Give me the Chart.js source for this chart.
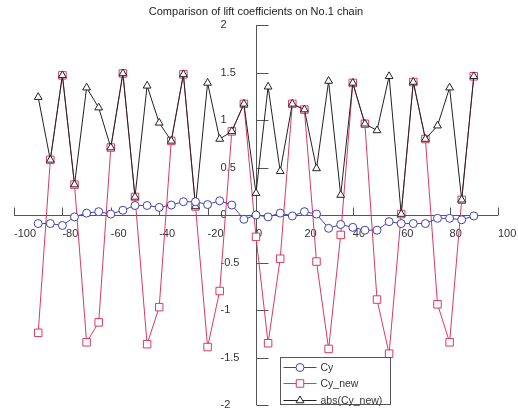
<!DOCTYPE html>
<html>
<head>
<meta charset="utf-8">
<script src="https://cdn.jsdelivr.net/npm/chart.js@4.4.1/dist/chart.umd.min.js"></script>
<style>
    body { margin: 0; background: #ffffff; }
    #wrap { width: 518px; height: 412px; }
</style>
</head>
<body>
<div id="wrap"><canvas id="liftChart" width="518" height="412"></canvas></div>
<script>
// Chain position angles (x) and lift coefficients
const angles = [-90, -85, -80, -75, -70, -65, -60, -55, -50, -45, -40, -35, -30, -25, -20, -15, -10, -5, 0,
    5, 10, 15, 20, 25, 30, 35, 40, 45, 50, 55, 60, 65, 70, 75, 80, 85, 90];

const cy = [-0.09, -0.09, -0.11, -0.02, 0.02, 0.035, 0.01, 0.05, 0.10, 0.10, 0.08, 0.105, 0.14, 0.14, 0.11, 0.15, 0.105, -0.045, 0.0,
    -0.02, 0.02, -0.01, 0.035, 0.01, -0.14, -0.10, -0.13, -0.16, -0.16, -0.07, -0.09, -0.09, -0.09, -0.035, -0.035, -0.05, -0.01];

const cyNew = [-1.24, 0.58, 1.47, 0.32, -1.34, -1.13, 0.71, 1.49, 0.19, -1.36, -0.97, 0.78, 1.48, 0.09, -1.39, -0.80, 0.88, 1.17, -0.23,
    -1.35, -0.46, 1.17, 1.11, -0.49, -1.41, -0.21, 1.39, 0.96, -0.89, -1.46, 0.01, 1.40, 0.80, -0.94, -1.34, 0.16, 1.46];

const absCyNew = [1.24, 0.58, 1.47, 0.32, 1.34, 1.13, 0.71, 1.49, 0.19, 1.36, 0.97, 0.78, 1.48, 0.09, 1.39, 0.80, 0.88, 1.17, 0.23,
    1.35, 0.46, 1.17, 1.11, 0.49, 1.41, 0.21, 1.39, 0.96, 0.89, 1.46, 0.01, 1.40, 0.80, 0.94, 1.34, 0.16, 1.46];

const xTicks = [-100, -80, -60, -40, -20, 0, 20, 40, 60, 80, 100];
const xTickLabels = ['-100', '-80', '-60', '-40', '-20', '0', '20', '40', '60', '80', '100'];
const yTicks = [-2, -1.5, -1, -0.5, 0, 0.5, 1, 1.5, 2];
const yTickLabels = ['-2', '-1.5', '-1', '-0.5', '0', '0.5', '1', '1.5', '2'];

const titleText = 'Comparison of lift coefficients on No.1 chain';
const FONT = '11px "Liberation Sans", Arial, sans-serif';
const LEGEND_FONT = '10.5px "Liberation Sans", Arial, sans-serif';
const AXIS_COLOR = '#555555';

function toPoints(values) {
    return angles.map((a, i) => ({ x: a, y: values[i] }));
}

// Axes cross at the origin, ticks point inward like the original plot
const crossAxesPlugin = {
    id: 'crossAxes',
    beforeDatasetsDraw(chart) {
        const ctx = chart.ctx;
        const xs = chart.scales.x;
        const ys = chart.scales.y;
        const x0 = Math.round(xs.getPixelForValue(0)) + 0.5;
        const y0 = Math.round(ys.getPixelForValue(0)) + 0.5;

        ctx.save();
        ctx.strokeStyle = AXIS_COLOR;
        ctx.lineWidth = 1;
        ctx.beginPath();
        ctx.moveTo(xs.getPixelForValue(-100), y0);
        ctx.lineTo(xs.getPixelForValue(100), y0);
        ctx.moveTo(x0, ys.getPixelForValue(2));
        ctx.lineTo(x0, ys.getPixelForValue(-2));

        xTicks.forEach(v => {
            const px = Math.round(xs.getPixelForValue(v)) + 0.5;
            ctx.moveTo(px, y0);
            ctx.lineTo(px, y0 - 8);
        });
        yTicks.forEach(v => {
            const py = Math.round(ys.getPixelForValue(v)) + 0.5;
            ctx.moveTo(x0, py);
            ctx.lineTo(x0 + 12, py);
        });
        ctx.stroke();

        ctx.fillStyle = '#333333';
        ctx.font = FONT;
        ctx.textAlign = 'left';
        ctx.textBaseline = 'middle';
        xTicks.forEach((v, i) => {
            ctx.fillText(xTickLabels[i], xs.getPixelForValue(v), y0 + 18);
        });
        yTicks.forEach((v, i) => {
            ctx.fillText(yTickLabels[i], x0 - 36, ys.getPixelForValue(v));
        });

        // title
        ctx.textAlign = 'center';
        ctx.fillStyle = '#222222';
        ctx.fillText(titleText, (xs.left + xs.right) / 2, 12);
        ctx.restore();
    },
    afterDatasetsDraw(chart) {
        const ctx = chart.ctx;
        const box = { x: 280.5, y: 357.5, w: 110, h: 47 };
        ctx.save();
        ctx.fillStyle = '#ffffff';
        ctx.fillRect(box.x, box.y, box.w, box.h);
        ctx.strokeStyle = AXIS_COLOR;
        ctx.lineWidth = 1;
        ctx.strokeRect(box.x, box.y, box.w, box.h);

        ctx.font = LEGEND_FONT;
        ctx.textAlign = 'left';
        ctx.textBaseline = 'middle';
        chart.data.datasets.forEach((ds, i) => {
            const ry = Math.round(box.y + 9 + i * 16.5) + 0.5;
            ctx.strokeStyle = ds.borderColor;
            ctx.lineWidth = 1;
            ctx.beginPath();
            ctx.moveTo(box.x + 3, ry);
            ctx.lineTo(box.x + 36, ry);
            ctx.stroke();
            ctx.fillStyle = '#ffffff';
            Chart.helpers.drawPoint(ctx, {
                pointStyle: ds.pointStyle,
                radius: ds.pointRadius,
                rotation: 0,
                borderWidth: 1
            }, box.x + 19.5, ry);
            ctx.fillStyle = '#333333';
            ctx.fillText(ds.label, box.x + 40, ry + 0.5);
        });
        ctx.restore();
    }
};

new Chart(document.getElementById('liftChart'), {
    type: 'line',
    data: {
        datasets: [
            {
                label: 'Cy',
                data: toPoints(cy),
                borderColor: '#4040b4',
                backgroundColor: 'rgba(0,0,0,0)',
                borderWidth: 1,
                pointStyle: 'circle',
                pointRadius: 4,
                pointBorderColor: '#4040b4',
                pointBackgroundColor: '#ffffff',
                pointBorderWidth: 1,
                order: 0
            },
            {
                label: 'Cy_new',
                data: toPoints(cyNew),
                borderColor: '#d93a64',
                backgroundColor: 'rgba(0,0,0,0)',
                borderWidth: 1,
                pointStyle: 'rect',
                pointRadius: 5.3,
                pointBorderColor: '#d93a64',
                pointBackgroundColor: '#ffffff',
                pointBorderWidth: 1,
                order: 2
            },
            {
                label: 'abs(Cy_new)',
                data: toPoints(absCyNew),
                borderColor: '#222222',
                backgroundColor: 'rgba(0,0,0,0)',
                borderWidth: 1,
                pointStyle: 'triangle',
                pointRadius: 4.5,
                pointBorderColor: '#222222',
                pointBackgroundColor: '#ffffff',
                pointBorderWidth: 1,
                order: 1
            }
        ]
    },
    options: {
        responsive: false,
        animation: false,
        devicePixelRatio: 1,
        layout: {
            padding: { left: 14, right: 20, top: 25, bottom: 7 }
        },
        elements: {
            line: { tension: 0 }
        },
        plugins: {
            legend: { display: false },
            title: { display: false },
            tooltip: { enabled: false }
        },
        scales: {
            x: { type: 'linear', min: -100, max: 100, display: false },
            y: { type: 'linear', min: -2, max: 2, display: false }
        }
    },
    plugins: [crossAxesPlugin]
});
</script>
</body>
</html>
